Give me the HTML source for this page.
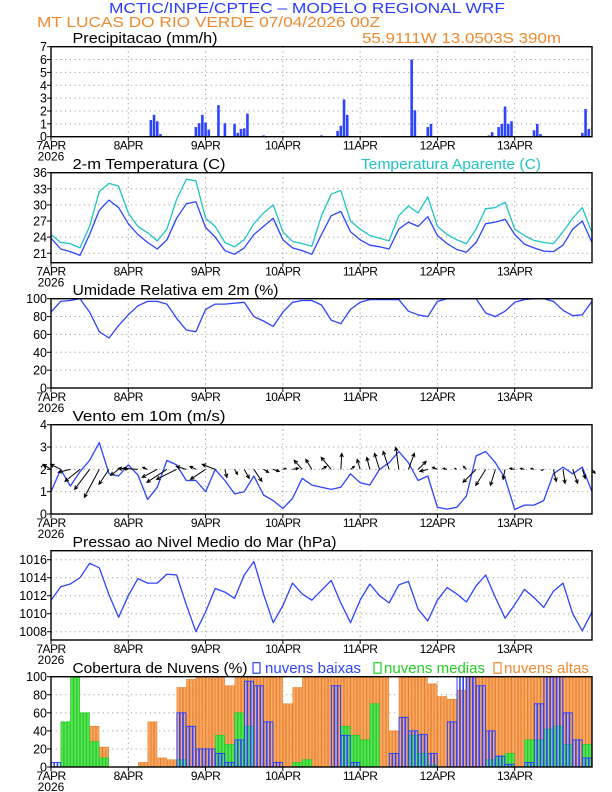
<!DOCTYPE html>
<html><head><meta charset="utf-8"><style>
html,body{margin:0;padding:0;background:#fff;}
svg{display:block;font-family:"Liberation Sans",sans-serif;}
</style></head><body>
<svg id="chart" width="612" height="792" viewBox="0 0 612 792" xmlns="http://www.w3.org/2000/svg">
<text x="109" y="13" font-size="15" fill="#2a3cff" textLength="396" lengthAdjust="spacingAndGlyphs">MCTIC/INPE/CPTEC – MODELO REGIONAL WRF</text>
<text x="37" y="27" font-size="15" fill="#f08a30" textLength="343" lengthAdjust="spacingAndGlyphs">MT LUCAS DO RIO VERDE   07/04/2026 00Z</text>
<text x="362" y="43" font-size="15" fill="#f08a30" textLength="199" lengthAdjust="spacingAndGlyphs">55.9111W 13.0503S 390m</text>
<g id="plots"></g>
</svg>
<script>
// ---- data (hour offsets from 07APR 00Z) ----
const dayLabels = ["7APR","8APR","9APR","10APR","11APR","12APR","13APR"];
const precipHours = [31,32,33,34,45,46,47,48,49,52,54,57,58,59,60,61,66,84,89,90,91,92,112,113,117,118,136,137,139,140,141,142,143,150,151,152,165,166,167];
const precipVals  = [1.3,1.7,1.2,0.2,0.75,1.05,1.7,1.1,0.55,2.45,1.05,1.0,0.3,0.6,0.65,1.8,0.1,0.1,0.45,0.85,2.9,1.7,6.0,2.05,0.75,1.0,0.1,0.35,0.75,1.0,2.35,1.0,1.2,0.5,1.0,0.2,0.3,2.15,0.6];
const tempHours = [0,3,6,9,12,15,18,21,24,27,30,33,36,39,42,45,48,51,54,57,60,63,66,69,72,75,78,81,84,87,90,93,96,99,102,105,108,111,114,117,120,123,126,129,132,135,138,141,144,147,150,153,156,159,162,165,168];
const temp2m = [23.8,21.8,21.3,20.6,24.5,29.0,30.9,29.5,26.5,24.5,23.0,21.8,23.5,27.5,30.2,30.6,25.8,24.0,21.5,20.8,22.0,24.5,26.0,27.5,23.5,22.0,21.5,20.8,24.5,28.0,28.8,25.0,23.5,22.5,22.2,21.8,25.5,26.8,26.0,27.8,24.3,22.8,21.7,21.2,23.0,26.5,26.8,27.3,24.5,22.7,22.0,21.4,21.3,22.5,25.5,27.0,23.0];
const tempApparent = [24.5,23.0,22.8,22.0,26.0,32.5,34.0,33.5,28.5,26.0,24.8,23.3,25.5,31.0,34.8,34.5,27.5,26.0,23.0,22.2,23.5,26.5,28.5,30.0,25.0,23.2,22.8,22.3,28.0,32.0,32.7,27.0,25.5,24.3,23.8,23.3,28.0,29.8,28.5,31.5,26.0,24.5,23.5,22.8,25.5,29.3,29.5,30.5,25.5,24.3,23.4,23.0,22.8,25.0,27.5,29.5,24.8];
const relHum = [85,97,98,100,85,63,56,70,82,92,97,97,94,78,65,63,88,94,94,95,96,80,75,69,85,96,98,98,93,76,72,88,96,99,99,99,99,86,82,80,97,100,100,100,100,84,80,86,96,99,100,100,97,87,81,82,97];
const windSpeed = [1.0,2.0,1.25,1.9,2.4,3.2,1.8,1.7,2.2,1.75,0.65,1.2,2.4,2.2,1.5,1.5,1.0,2.0,1.5,0.9,1.0,1.7,0.85,0.6,0.25,0.7,1.6,1.3,1.2,1.1,1.2,1.8,1.4,1.3,2.0,2.3,2.8,2.3,1.5,1.7,0.3,0.22,0.3,0.8,2.6,2.8,2.3,1.6,0.2,0.4,0.4,0.6,1.8,2.1,1.8,2.1,1.0];
const windU = [-0.8,-1,-1.2,-1.5,-1.5,-1.5,-1,-0.8,-1,-1.5,-0.5,-1.5,-2,-2,-1,-0.6,-1.5,-1.3,0.2,0.3,0.5,0.8,0.5,0.6,0.3,0.6,-0.8,-0.6,0.5,-1,0.1,0.4,-0.3,-0.3,-0.5,-0.6,-0.3,0.6,0.8,-0.8,-0.5,-0.4,-0.2,-0.3,-1.3,-1,-0.5,-0.2,-0.5,-0.4,-0.3,-0.2,0.3,0.2,0.5,0.3,0.3];
const windV = [0.5,0.5,-0.3,-1.2,-2,-2.8,-1.5,-0.6,0.1,0.1,0.2,-0.8,-1.3,-1,0.3,0.3,-1,0.5,-0.8,-0.5,-0.9,-1.2,-0.3,-0.2,0.1,0.1,0.9,1,0.3,1.2,1.6,0.3,1,1.2,1.6,1.8,2.2,1.6,0.8,-0.2,0.2,0.1,0.1,0.3,-1.3,-1.6,-1.6,-1,0.1,0.1,0.1,-0.1,-1.2,-1.4,-1.4,-0.9,-0.4];
const pressure = [1011.5,1013.0,1013.3,1014.0,1015.6,1015.1,1012.1,1009.6,1012.0,1013.9,1013.4,1013.4,1014.4,1014.3,1011.0,1008.0,1010.2,1012.8,1012.4,1011.7,1014.3,1015.8,1012.2,1009.0,1010.9,1013.4,1012.2,1011.5,1012.6,1013.7,1011.2,1009.0,1011.5,1013.3,1012.0,1011.2,1013.2,1013.6,1010.5,1009.2,1011.5,1012.9,1012.2,1011.3,1013.1,1014.3,1011.8,1009.5,1011.0,1012.7,1011.8,1010.7,1012.5,1013.4,1010.0,1008.1,1010.2];
// cloud cover per 3-hour interval (interval k covers hours 3k..3k+3)
const cloudHigh = [0,30,70,60,45,22,0,0, 0,5,50,10,8,88,97,100, 100,100,90,100,100,100,100,100, 70,88,100,100,100,100,100,100, 100,100,100,40,100,100,100,92, 78,75,85,100,100,100,100,100, 100,100,100,100,100,100,100,100];
const cloudLow  = [5,0,0,0,0,0,0,0, 0,0,0,0,0,60,45,20, 20,15,5,30,95,90,50,5, 0,0,0,0,0,90,35,5, 0,0,0,15,55,40,36,15, 0,50,100,100,90,40,12,3, 0,5,70,100,100,60,30,10];
const cloudMid  = [0,50,100,60,28,10,0,0, 0,0,0,0,0,8,0,0, 0,35,25,60,45,0,0,0, 0,5,8,0,0,0,45,35, 30,70,0,0,0,35,15,2, 0,0,0,0,0,8,12,15, 0,30,30,42,45,25,0,25];

// ---- layout ----
const NS = "http://www.w3.org/2000/svg";
const root = document.getElementById("plots");
const X0 = 51, X1 = 592, HOURS = 168;
const X = h => X0 + h * (X1 - X0) / HOURS;
const BLUE = "#2d44ff", CYAN = "#20c4c4", ORANGE = "#f08a30", GREEN = "#22d022";

function mk(tag, attrs, parent) {
  const e = document.createElementNS(NS, tag);
  for (const k in attrs) e.setAttribute(k, attrs[k]);
  (parent || root).appendChild(e);
  return e;
}

function panel(name, top, bot, ymin, ymax, ticks, fmt) {
  const Y = v => bot - (v - ymin) * (bot - top) / (ymax - ymin);
  const g = mk("g", {});
  
  
  // grid
  for (let d = 1; d < 7; d++) {
    const l = mk("line", {x1: X(d*24), x2: X(d*24), y1: top, y2: bot, stroke: "#a0a0a0", "stroke-dasharray": "1.2,3.5", "stroke-width": 1}, g);
    
    
  }
  ticks.forEach(t => {
    if (t > ymin && t < ymax) {
      const l = mk("line", {x1: X0, x2: X1, y1: Y(t), y2: Y(t), stroke: "#a0a0a0", "stroke-dasharray": "1.2,3.5", "stroke-width": 1}, g);
      
      
    }
    const tk = mk("line", {x1: X0 - 4, x2: X0, y1: Y(t), y2: Y(t), stroke: "#000", "stroke-width": 1}, g);
    
    
    const tx = mk("text", {x: X0 - 4, y: Y(t) + 4.5, "font-size": 12.5, "text-anchor": "end", fill: "#000"}, g);
    
    
    tx.textContent = fmt ? fmt(t) : t;
  });
  dayLabels.forEach((lab, d) => {
    const tk = mk("line", {x1: X(d*24), x2: X(d*24), y1: bot, y2: bot + 4, stroke: "#000", "stroke-width": 1}, g);
    
    
    const tx = mk("text", {x: X(d*24), y: bot + 13, "font-size": 12, "text-anchor": "middle", fill: "#000", "letter-spacing": "-0.5"}, g);
    
    
    tx.textContent = lab;
  });
  const yr = mk("text", {x: X0, y: bot + 24, "font-size": 12, "text-anchor": "middle", fill: "#000"}, g);
  
  
  yr.textContent = "2026";
  return {Y, g, top, bot};
}
function frame(p) {
  const r = mk("rect", {x: X0, y: p.top, width: X1 - X0, height: p.bot - p.top, fill: "none", stroke: "#000", "stroke-width": 1.4}, p.g);
  
  
}
function title(txt, x, y, len, color, nm) {
  const t = mk("text", {x: x, y: y, "font-size": 14.5, fill: color || "#000", textLength: len, lengthAdjust: "spacingAndGlyphs"});
  
  
  t.textContent = txt;
}
function line(p, hours, vals, color, nm) {
  const pts = vals.map((v, i) => X(hours[i]).toFixed(1) + "," + p.Y(v).toFixed(1)).join(" ");
  const pl = mk("polyline", {points: pts, fill: "none", stroke: color, "stroke-width": 1.3, "stroke-linejoin": "round"}, p.g);
  
  
}

// Panel 1: precipitation
const p1 = panel("precipitation", 46.7, 136.7, 0, 7, [0,1,2,3,4,5,6,7]);
title("Precipitacao (mm/h)", 72.5, 43, 145, "#000", "precipitation-title");
precipHours.forEach((h, i) => {
  const b = mk("rect", {x: X(h) - 1.3, y: p1.Y(precipVals[i]), width: 2.6, height: p1.Y(0) - p1.Y(precipVals[i]), fill: BLUE}, p1.g);
  
  
});
frame(p1);

// Panel 2: temperature
const p2 = panel("temperature", 172.7, 262.7, 36 - 90 / 5.37, 36, [21,24,27,30,33,36]);
title("2-m Temperatura (C)", 72.5, 169, 153, "#000", "temperature-title");
title("Temperatura Aparente (C)", 361, 169, 180, CYAN, "apparent-temperature-title");
line(p2, tempHours, tempApparent, CYAN, "apparent-temperature-line");
line(p2, tempHours, temp2m, BLUE, "temperature-line");
frame(p2);

// Panel 3: relative humidity
const p3 = panel("humidity", 298.7, 388, 0, 100, [0,20,40,60,80,100]);
title("Umidade Relativa em 2m (%)", 72.5, 295, 206, "#000", "humidity-title");
line(p3, tempHours, relHum, BLUE, "humidity-line");
frame(p3);

// Panel 4: wind
const p4 = panel("wind", 424.7, 514, 0, 4, [0,1,2,3,4]);
title("Vento em 10m (m/s)", 72.5, 421, 153, "#000", "wind-title");
line(p4, tempHours, windSpeed, BLUE, "wind-speed-line");
windU.forEach((u, i) => {
  const x0 = X(tempHours[i]), y0 = p4.Y(2);
  const x1 = x0 + u * 10, y1 = y0 - windV[i] * 10;
  const a = Math.atan2(y1 - y0, x1 - x0);
  const len = Math.hypot(x1 - x0, y1 - y0);
  const hl = Math.min(4, len * 0.5);
  const d = `M${x0},${y0}L${x1},${y1}M${x1 - hl*Math.cos(a - 0.45)},${y1 - hl*Math.sin(a - 0.45)}L${x1},${y1}L${x1 - hl*Math.cos(a + 0.45)},${y1 - hl*Math.sin(a + 0.45)}`;
  const ar = mk("path", {d: d, fill: "none", stroke: "#000", "stroke-width": 1}, p4.g);
  
  
});
frame(p4);

// Panel 5: pressure
const p5 = panel("pressure", 550.7, 640, 1007.08, 1017, [1008,1010,1012,1014,1016]);
title("Pressao ao Nivel Medio do Mar (hPa)", 72.5, 547, 264, "#000", "pressure-title");
line(p5, tempHours, pressure, BLUE, "pressure-line");
frame(p5);

// Panel 6: cloud cover
const p6 = panel("cloud", 676.7, 767, 0, 100, [0,20,40,60,80,100]);
title("Cobertura de Nuvens (%)", 72.5, 673, 175, "#000", "cloud-title");
function legend(x, color, txt, tx, tl, nm) {
  const r = mk("rect", {x: x, y: 662.7, width: 7, height: 10.5, fill: "none", stroke: color, "stroke-width": 1.2});
  
  
  const t = mk("text", {x: tx, y: 673, "font-size": 14.5, fill: color, textLength: tl, lengthAdjust: "spacingAndGlyphs"});
  
  
  t.textContent = txt;
}
legend(253, BLUE, "nuvens baixas", 265, 96, "legend-low");
legend(374, GREEN, "nuvens medias", 384, 101, "legend-mid");
legend(494, ORANGE, "nuvens altas", 504, 85, "legend-high");
function cloudBars(vals, fill, stroke, sw, nm) {
  vals.forEach((v, k) => {
    if (v <= 0) return;
    for (let j = 0; j < 3; j++) {
      const h = 3 * k + j;
      const b = mk("rect", {x: X(h) + 0.3, y: p6.Y(v), width: 2.6, height: p6.Y(0) - p6.Y(v), fill: fill, stroke: stroke, "stroke-width": sw}, p6.g);
      
      
    }
  });
}
cloudBars(cloudHigh, "#f6a864", "#e8781e", 0.6, "high-cloud-bar");
cloudBars(cloudMid, "#5ee05e", GREEN, 0.8, "mid-cloud-bar");
cloudBars(cloudLow, "none", BLUE, 1, "low-cloud-bar");
frame(p6);
</script>
</body></html>
